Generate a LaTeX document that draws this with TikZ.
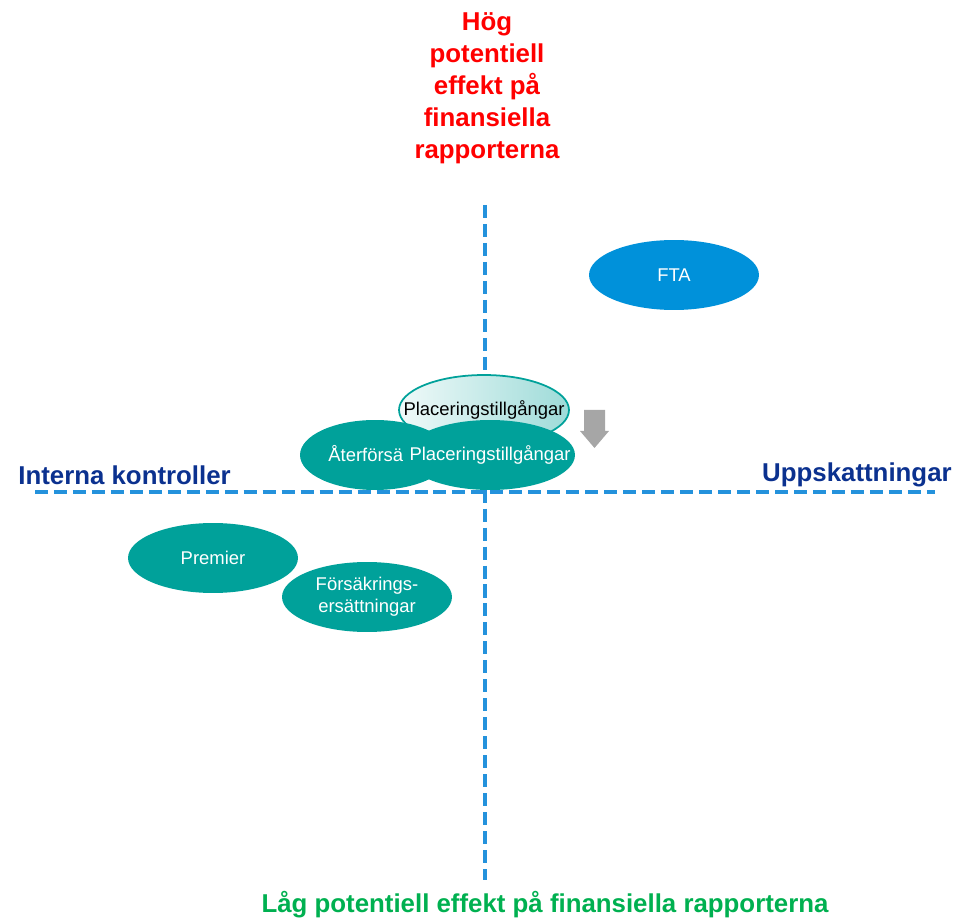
\documentclass[tikz,border=0pt]{standalone}
\usepackage{fontspec}
\setmainfont{Liberation Sans}
\usepackage{xcolor}
\usepackage{tikz}
\usetikzlibrary{shapes.geometric}
\definecolor{axisblue}{HTML}{2492DC}
\definecolor{navy}{HTML}{0B318F}
\definecolor{hired}{HTML}{FF0000}
\definecolor{logreen}{HTML}{00B050}
\definecolor{teal}{HTML}{00A19A}
\definecolor{ftablue}{HTML}{0091DA}
\definecolor{arrowgray}{HTML}{A6A6A6}
\tikzset{
  axis/.style={draw=axisblue, line width=1.9pt, dash pattern=on 7.4pt off 3.4pt},
  head/.style={inner sep=0pt, font=\fontsize{14.7}{18.2}\selectfont\bfseries},
  blob/.style={ellipse, inner sep=0pt, minimum width=3.4cm, minimum height=1.4cm},
  tealblob/.style={blob, fill=teal},
  txt/.style={inner sep=0pt, text=white, font=\fontsize{10.5}{12.5}\selectfont, align=center},
}

\begin{document}
\begin{tikzpicture}[x=0.02cm, y=-0.02cm]
  \useasboundingbox (0,0) rectangle (957,918);
  \coordinate (top) at (485,205);
  \coordinate (bot) at (485,880);
  \coordinate (lft) at (35,492);
  \coordinate (rgt) at (935,492);
  \draw[axis] (top)--(bot);
  \draw[axis] (lft)--(rgt);
  \node[head, text=hired, align=center] (hog) at (487,88)
    {Hög\\potentiell\\effekt på\\finansiella\\rapporterna};
  \node[head, text=logreen] (lag) at (545,905)
    {Låg potentiell effekt på finansiella rapporterna};
  \node[head, text=navy, anchor=west] (intern) at (18,475) {Interna kontroller};
  \node[head, text=navy, anchor=east] (uppsk) at (952,475) {Uppskattningar};
  \node[blob, fill=ftablue] (fta) at (674,275) {};
  \node[txt] (ftatxt) at (fta) {FTA};
  \node[blob, draw=teal, line width=1pt, left color=teal!6,
    right color=teal!38] (placold) at (484,410) {};
  \node[txt, text=black] (placoldtxt) at (placold) {Placeringstillgångar};
  \node[tealblob, minimum width=3cm] (ater) at (375,455) {};
  \node[txt, anchor=west] (atertxt) at (328,454) {Återförsä};
  \node[tealblob] (placnew) at (490,455) {};
  \node[txt] (placnewtxt) at (placnew) {Placeringstillgångar};
  \fill[arrowgray] (584,410)--(605,410)--(605,431)--(609,431)--(594.5,448)
    --(580,431)--(584,431)--cycle;
  \node[tealblob] (prem) at (213,558) {};
  \node[txt] (premtxt) at (prem) {Premier};
  \node[tealblob] (ersatt) at (367,597) {};
  \node[txt] (ersatttxt) at (ersatt) {Försäkrings-\\ersättningar};
\end{tikzpicture}
\end{document}
